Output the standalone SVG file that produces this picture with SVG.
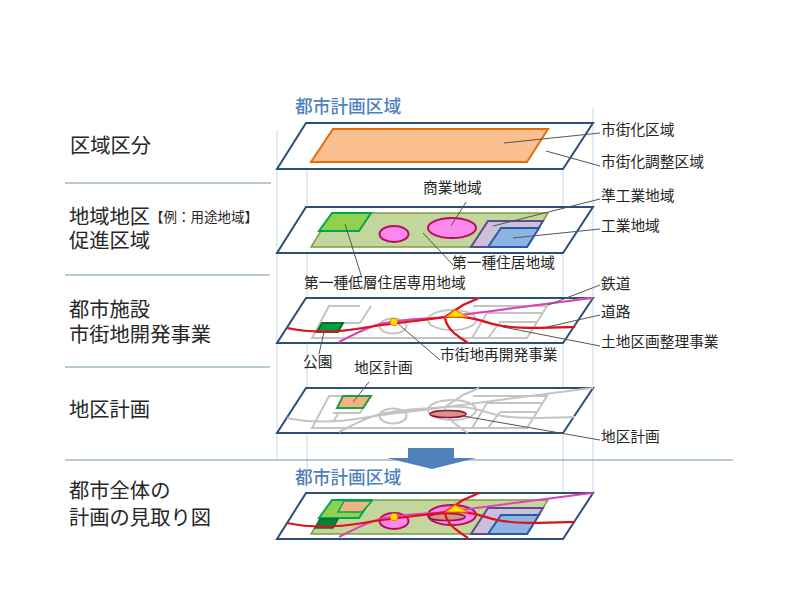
<svg xmlns="http://www.w3.org/2000/svg" width="800" height="600" viewBox="0 0 800 600">
<style>
text{font-family:"Liberation Sans","Noto Sans CJK JP",sans-serif;fill:#262626}
.h{font-size:20.3px}.l{font-size:14.7px}.s{font-size:13.5px}
.t{font-size:17.7px;font-weight:500;fill:#4f81bd}
.plane{fill:#fff;stroke:#2c4f78;stroke-width:2}
.sep{stroke:#6f97a0;stroke-width:1;fill:none}
.guide{stroke:#c9d6e4;stroke-width:1;fill:none}
.lead{stroke:#555;stroke-width:1;fill:none}
.gray{stroke:#c4c4c4;stroke-width:2;fill:none}
.road{stroke:#e0101a;stroke-width:2.2;fill:none}
.rail{stroke:#e040b8;stroke-width:2;fill:none}
.area{fill:#c3d69b;stroke:#7f9a48;stroke-width:1.5}
.low{fill:#92d050;stroke:#00a850;stroke-width:2}
.mag{fill:#ff88ee;stroke:#b0105a;stroke-width:2}
.pur{fill:#ccc0da;stroke:#5f4b8b;stroke-width:2}
.blu{fill:#8db4e2;stroke:#2c5aa0;stroke-width:2}
.park{fill:#00a040;stroke:#0a6b2c;stroke-width:2}
.dist{fill:#f4b183;stroke:#1d9e4a;stroke-width:2}
.core{fill:#e0908c;stroke:#8b1a3a;stroke-width:1.5}
</style>
<defs>
<g id="zones">
<polygon class="area" points="332,213 548,213 527,247 311,247"/>
<polygon class="low" points="332,213 371,213 359,231 319,231"/>
<ellipse class="mag" cx="394" cy="234" rx="14.5" ry="8"/>
<ellipse class="mag" cx="452" cy="228" rx="24" ry="10"/>
<polygon class="pur" points="488,221 543,221 527,247 471,247"/>
<polygon class="blu" points="501,228 539,228 527,247 488,247"/>
</g>
<g id="base">
<path class="gray" d="M360,396H329L312,428H527L547,396H473M371,396L360,413H333M338,414L333,422M487,403L472,428M487,403H543M500,412L488,428M500,412H538"/>
<ellipse class="gray" cx="393" cy="416" rx="13.5" ry="7.5"/>
<ellipse class="gray" cx="452" cy="410" rx="24" ry="10"/>
<path class="gray" d="M287,418C315,424 345,421 363,418C390,413 420,411 445,407C470,405 480,411 497,415C515,419 540,418 575,417M479,388L463,395L445,407M445,408C447,420 458,426 468,433M339,432C355,424 365,418 380,414C400,409 425,409 445,407C500,400 550,393 593,388"/>
</g>
<g id="lines">
<path class="rail" d="M339,342C355,334 365,328 380,324C400,319 425,319 445,317C500,310 550,303 593,298"/>
<path class="road" d="M287,328C315,334 345,331 363,328C390,323 420,321 445,317C470,315 480,321 497,325C515,329 540,328 575,327M479,298L463,305L445,317M445,318C447,330 458,336 468,343"/>
<polygon points="455,310 468,317 446,317" fill="#ffe000" stroke="#f08000" stroke-width="1.2"/>
<circle cx="394" cy="322" r="3.8" fill="#ffe000" stroke="#f08000" stroke-width="1"/>
</g>
</defs>
<rect width="800" height="600" fill="#fff"/>
<g id="guides">
<path class="guide" d="M277,130V458M307,169V468M563,130V493M593,108V493"/>
<path class="sep" d="M65,183H271M65,275H270M65,367H270M65,460H733"/>
</g>
<g id="plane-zoning">
<polygon class="plane" points="306,123 593,123 563,169 277,169"/>
<polygon points="333,129 548,129 527,162 311,162" fill="#fac090" stroke="#e46c0a" stroke-width="2"/>
</g>
<g id="plane-landuse">
<polygon class="plane" points="306,207 593,207 563,253 277,253"/>
<use href="#zones"/>
</g>
<g id="plane-facilities">
<polygon class="plane" points="306,298 593,298 563,343 277,343"/>
<use href="#base" y="-90"/>
<polygon class="park" points="322,323 343,323 338,332 317,332"/>
<use href="#lines"/>
</g>
<g id="plane-district">
<polygon class="plane" points="306,388 593,388 563,433 277,433"/>
<use href="#base"/>
<polygon class="dist" points="343,396 371,396 363,408 337,408"/>
<ellipse class="core" cx="448" cy="414" rx="18" ry="3.5"/>
</g>
<g id="arrow">
<polygon points="408,448 454,448 454,458 476,458 432,469 387,458 408,458" fill="#4f81bd"/>
</g>
<g id="plane-overall">
<polygon class="plane" points="306,493 593,493 563,539 277,539"/>
<use href="#zones" y="287"/>
<polygon points="344,501 372,501 362,512 338,512" fill="#f4b183" stroke="#00a850" stroke-width="1.5"/>
<polygon points="320,519 338,519 333,528 315,528" fill="#00853a" stroke="#0a6b2c" stroke-width="1.5"/>
<ellipse class="core" cx="447" cy="517" rx="18" ry="3.5"/>
<use href="#lines" y="195"/>
</g>
<g id="connectors">
<path class="lead" d="M504,143L600,133M546,151L600,166M466,202L451,226M493,226L600,199M513,238L600,229M423,233L453,265M345,224L362,278M548,305L600,285M547,327L600,315M503,327L600,346M397,323L440,360M324,332L319,354M369,382L353,402M463,416L600,440"/>
</g>
<g id="labels">
<text class="t" x="295" y="113">都市計画区域</text>
<text class="t" x="295" y="484">都市計画区域</text>
<text class="h" x="70" y="153">区域区分</text>
<text class="h" x="69" y="223.5">地域地区</text>
<text class="s" x="150" y="222">【例：用途地域】</text>
<text class="h" x="69" y="247.5">促進区域</text>
<text class="h" x="69" y="317">都市施設</text>
<text class="h" x="69" y="342">市街地開発事業</text>
<text class="h" x="69" y="417">地区計画</text>
<text class="h" x="69" y="498">都市全体の</text>
<text class="h" x="69" y="525">計画の見取り図</text>
<text class="l" x="601" y="135">市街化区域</text>
<text class="l" x="601" y="167">市街化調整区域</text>
<text class="l" x="423" y="193">商業地域</text>
<text class="l" x="601" y="201">準工業地域</text>
<text class="l" x="601" y="231">工業地域</text>
<text class="l" x="452" y="268">第一種住居地域</text>
<text class="l" x="304" y="288">第一種低層住居専用地域</text>
<text class="l" x="601" y="289">鉄道</text>
<text class="l" x="601" y="317">道路</text>
<text class="l" x="601" y="347">土地区画整理事業</text>
<text class="l" x="440" y="360">市街地再開発事業</text>
<text class="l" x="303" y="367">公園</text>
<text class="l" x="354" y="373">地区計画</text>
<text class="l" x="601" y="442">地区計画</text>
</g>
</svg>
